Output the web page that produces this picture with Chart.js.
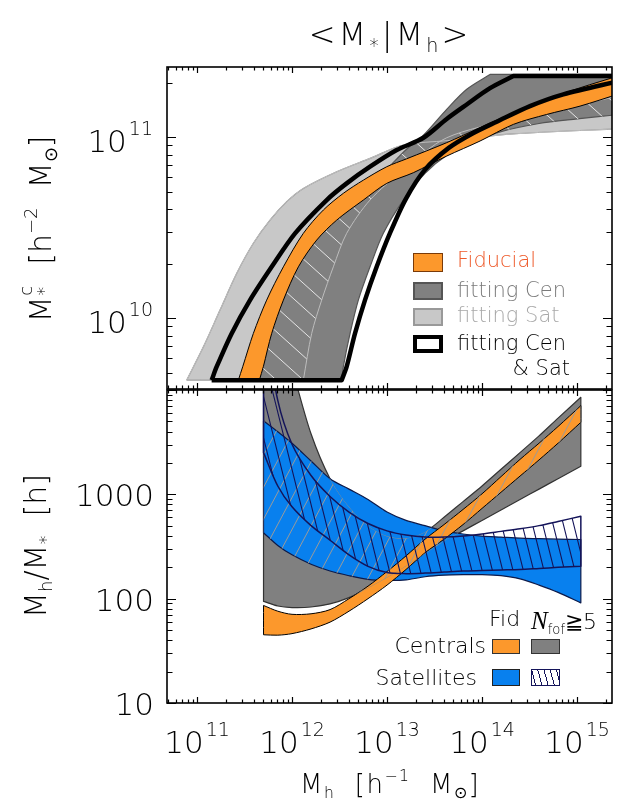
<!doctype html>
<html>
<head>
<meta charset="utf-8">
<title>&lt;M*|Mh&gt;</title>
<script src="https://cdn.jsdelivr.net/npm/chart.js"></script>
<style>
  body { margin: 0; background: #fff; }
  #wrap { position: relative; width: 620px; height: 805px; overflow: hidden;
          font-family: "DejaVu Sans", sans-serif; font-weight: 200; color: #000; }
  canvas { position: absolute; left: 0; top: 0; }
  .t { position: absolute; white-space: nowrap; line-height: 1; }
  .sup { font-size: .6em; position: relative; top: -.8em; }
  .sub { font-size: .6em; position: relative; top: .35em; }
  .rot { transform: translate(-50%, -50%) rotate(-90deg); }
  .stk { display: inline-block; position: relative; width: .42em; height: 1em; }
  .stk span { position: absolute; left: .03em; font-size: .6em; }
  .sw { position: absolute; box-sizing: border-box; }
</style>
</head>
<body>
<div id="wrap">
  <canvas id="top" width="620" height="805"></canvas>
  <canvas id="bot" width="620" height="805"></canvas>

  <div class="t" style="left:390px;top:18px;font-size:32px;letter-spacing:3px;transform:translateX(-50%)">&lt;M<span class="sub">*</span>|M<span class="sub">h</span>&gt;</div>
  <div class="t" style="left:390px;top:771px;font-size:26px;letter-spacing:1.5px;transform:translateX(-50%)">M<span class="sub">h</span>&nbsp;&nbsp;[h<span class="sup">&minus;1</span>&nbsp;&nbsp;M<span class="sub">&#8857;</span>]</div>
  <div class="t rot" style="left:38px;top:229px;font-size:30px">M<span class="stk"><span style="top:-.2em">c</span><span style="top:.75em">*</span></span>&nbsp; [h<span class="sup">&minus;2</span>&nbsp; M<span class="sub">&#8857;</span>]</div>
  <div class="t rot" style="left:36px;top:546px;font-size:30px">M<span class="sub">h</span>/M<span class="sub">*</span>&nbsp; [h]</div>

  <!-- top legend -->
  <div class="sw" style="left:413px;top:253px;width:30px;height:19px;background:#fc982c;border:1px solid #7a3a08"></div>
  <div class="sw" style="left:413px;top:282px;width:30px;height:18px;background:#808080;border:2px solid #555"></div>
  <div class="sw" style="left:413px;top:308px;width:30px;height:18px;background:#c8c8c8;border:2px solid #999"></div>
  <div class="sw" style="left:413px;top:335px;width:30px;height:18px;background:#fff;border:4px solid #000"></div>
  <div class="t" style="left:457px;top:250px;font-size:21px;color:#ee5a2a">Fiducial</div>
  <div class="t" style="left:457px;top:280px;font-size:21px;color:#7a7a7a">fitting Cen</div>
  <div class="t" style="left:457px;top:305px;font-size:21px;color:#a8a8a8">fitting Sat</div>
  <div class="t" style="left:457px;top:333px;font-size:21px">fitting Cen</div>
  <div class="t" style="right:50px;top:358px;font-size:21px">&amp; Sat</div>

  <!-- bottom legend -->
  <div class="t" style="left:489px;top:608px;font-size:22px">Fid</div>
  <div class="t" style="left:531px;top:608px;font-size:22px"><i style="font-family:'Liberation Serif',serif;font-weight:400;font-size:25px">N</i><span class="sub">fof</span>&#8807;5</div>
  <div class="t" style="right:134px;top:635px;font-size:22px">Centrals</div>
  <div class="t" style="right:143px;top:667px;font-size:22px">Satellites</div>
  <div class="sw" style="left:492px;top:639px;width:28px;height:15px;background:#fc982c;border:1px solid #333"></div>
  <div class="sw" style="left:531px;top:639px;width:29px;height:15px;background:#808080;border:1px solid #333"></div>
  <div class="sw" style="left:492px;top:669px;width:28px;height:17px;background:#0880ee;border:1px solid #222"></div>
  <div class="sw" style="left:531px;top:669px;width:29px;height:17px;border:1px solid #14145a;
       background:repeating-linear-gradient(75deg,#fff 0 3px,#14145a 3px 4px,#fff 4px 6px)"></div>
</div>

<script>
// ---- top panel: log10(Mh) and log10(M*c) along the edges of each band ----
// (a repeated point marks a sharp corner, e.g. where an edge meets the flat top)
const satA_mh = [10.891, 11.067, 11.242, 11.418, 11.593, 11.768, 11.944, 12.119, 12.470, 12.821, 13.172, 13.632, 14.326, 15.45]
const satA_ms = [9.657, 9.841, 10.044, 10.247, 10.413, 10.541, 10.643, 10.716, 10.808, 10.882, 10.956, 10.980, 11.017, 11.046]
const satB_mh = [12.119, 12.207, 12.312, 12.435, 12.575, 12.821, 13.172, 13.628, 14.330, 15.45]
const satB_ms = [9.657, 9.915, 10.099, 10.283, 10.468, 10.652, 10.818, 10.996, 11.098, 11.228]

const cenA_mh = [11.55, 11.70, 11.85, 12.00, 12.20, 12.45, 12.70, 12.95, 13.20, 13.383, 13.628, 13.839, 14.084, 14.084, 15.45]
const cenA_ms = [9.657, 9.95, 10.17, 10.32, 10.46, 10.60, 10.70, 10.80, 10.93, 11.01, 11.153, 11.264, 11.346, 11.346, 11.346]
const cenB_mh = [12.523, 12.540, 12.611, 12.698, 12.821, 12.961, 13.172, 13.40, 13.63, 13.90, 14.20, 14.60, 15.00, 15.45]
const cenB_ms = [9.657, 9.731, 9.915, 10.099, 10.283, 10.468, 10.652, 10.80, 10.90, 10.97, 11.03, 11.075, 11.10, 11.125]

const fidA_mh = [11.435, 11.481, 11.593, 11.733, 11.909, 12.119, 12.330, 12.540, 12.751, 12.997, 13.207, 13.628, 13.979, 14.330, 14.681, 15.032, 15.45]
const fidA_ms = [9.657, 9.731, 9.915, 10.099, 10.283, 10.468, 10.597, 10.689, 10.762, 10.836, 10.880, 10.969, 11.052, 11.134, 11.208, 11.272, 11.340]
const fidB_mh = [11.656, 11.698, 11.786, 11.909, 12.067, 12.260, 12.470, 12.751, 12.997, 13.277, 13.628, 13.979, 14.330, 14.681, 15.032, 15.45]
const fidB_ms = [9.657, 9.731, 9.915, 10.099, 10.283, 10.431, 10.541, 10.652, 10.744, 10.803, 10.895, 10.978, 11.070, 11.125, 11.171, 11.240]

const bothA_mh = [11.154, 11.207, 11.365, 11.558, 11.786, 12.032, 12.365, 12.575, 12.821, 13.102, 13.383, 13.628, 13.839, 14.084, 14.330, 14.330, 15.45]
const bothA_ms = [9.657, 9.731, 9.915, 10.099, 10.283, 10.468, 10.652, 10.744, 10.836, 10.928, 10.996, 11.100, 11.180, 11.270, 11.337, 11.337, 11.337]
const bothB_mh = [12.523, 12.575, 12.663, 12.768, 12.891, 13.032, 13.20, 13.40, 13.65, 13.90, 14.155, 14.505, 14.856, 15.45]
const bothB_ms = [9.657, 9.731, 9.915, 10.099, 10.283, 10.470, 10.660, 10.820, 10.940, 11.020, 11.085, 11.171, 11.236, 11.310]

// ---- bottom panel: log10(Mh/M*) on a shared log10(Mh) grid ----
const mhGrid   = [11.70, 11.85, 12.00, 12.20, 12.40, 12.60, 12.80, 13.00, 13.20, 13.40, 13.60, 13.80, 14.00, 14.20, 14.40, 14.60, 14.80, 15.04]
const cenN5Hi  = [5.0, 4.6, 4.2, 3.58, 3.15, 2.88, 2.70, 2.60, 2.58, 2.64, 2.78, 2.93, 3.08, 3.24, 3.40, 3.56, 3.73, 3.93]
const cenN5Lo  = [1.974, 1.93, 1.915, 1.92, 1.95, 2.01, 2.10, 2.20, 2.31, 2.43, 2.55, 2.65, 2.75, 2.85, 2.95, 3.05, 3.15, 3.27]
const cenFidHi = [1.935, 1.88, 1.85, 1.855, 1.895, 2.0, 2.12, 2.26, 2.41, 2.57, 2.71, 2.855, 3.005, 3.17, 3.335, 3.49, 3.65, 3.85]
const cenFidLo = [1.654, 1.65, 1.665, 1.71, 1.775, 1.88, 2.0, 2.13, 2.28, 2.44, 2.57, 2.71, 2.865, 3.02, 3.175, 3.33, 3.49, 3.69]
const satFidHi = [3.705, 3.60, 3.49, 3.32, 3.15, 3.05, 2.95, 2.83, 2.75, 2.70, 2.65, 2.62, 2.60, 2.59, 2.58, 2.575, 2.57, 2.567]
const satFidLo = [2.632, 2.51, 2.42, 2.33, 2.265, 2.22, 2.185, 2.175, 2.18, 2.21, 2.225, 2.23, 2.23, 2.22, 2.19, 2.13, 2.06, 1.96]
const satN5Hi  = [4.7, 3.90, 3.48, 3.18, 2.98, 2.83, 2.72, 2.65, 2.61, 2.59, 2.59, 2.60, 2.62, 2.645, 2.67, 2.70, 2.74, 2.79]
const satN5Lo  = [3.40, 3.08, 2.88, 2.70, 2.56, 2.42, 2.31, 2.25, 2.24, 2.245, 2.255, 2.265, 2.27, 2.275, 2.28, 2.29, 2.30, 2.31]

// axis ranges (log10) and tick labels
const xRange = [10.684, 15.368]
const topRange = [9.608, 11.387]
const botRange = [1.0, 4.0]
const xTickExp = ['11', '12', '13', '14', '15']
const topTickExp = ['10', '11']
const botTickLabels = ['10', '100', '1000']

const pow = (v) => Math.pow(10, v)
const MAIN = '200 31px "DejaVu Sans", sans-serif'
const SUP = '200 19px "DejaVu Sans", sans-serif'

// closed outline: first edge left->right, second edge back right->left.
// The four corners are repeated so the smoothed outline keeps them sharp.
function band(xa, ya, xb, yb) {
  const P = (x, y) => ({ x: pow(x), y: pow(y) })
  const up = xa.map((x, i) => P(x, ya[i]))
  const lo = xb.map((x, i) => P(x, yb[i])).reverse()
  return [...up, up[up.length - 1], lo[0], ...lo, lo[lo.length - 1], up[0]]
}

function ds(data, fillColor, borderColor, borderWidth) {
  return {
    data,
    fill: fillColor ? 'shape' : false,
    backgroundColor: fillColor || 'transparent',
    borderColor,
    borderWidth,
    pointRadius: 0,
    tension: 0.3,
    borderJoinStyle: 'round',
  }
}

// outline of a band exactly as the library draws it (curved segments included)
function bandPath(ctx, chart, idx) {
  chart.getDatasetMeta(idx).dataset.path(ctx)
  ctx.closePath()
}

function clipArea(ctx, a) {
  ctx.beginPath()
  ctx.rect(a.left, a.top, a.right - a.left, a.bottom - a.top)
  ctx.clip()
}

function hatch(ctx, a, angle, spacing, color, lw) {
  const r = (angle * Math.PI) / 180
  const dx = Math.cos(r), dy = Math.sin(r)
  const cx = (a.left + a.right) / 2, cy = (a.top + a.bottom) / 2
  const R = Math.hypot(a.right - a.left, a.bottom - a.top)
  ctx.beginPath()
  for (let s = -R; s <= R; s += spacing) {
    const px = cx - dy * s, py = cy + dx * s
    ctx.moveTo(px - dx * R, py - dy * R)
    ctx.lineTo(px + dx * R, py + dy * R)
  }
  ctx.strokeStyle = color
  ctx.lineWidth = lw
  ctx.stroke()
}

function powLabel(ctx, base, exp, x, y, align) {
  ctx.font = MAIN
  const w1 = ctx.measureText(base).width
  ctx.font = SUP
  const w2 = exp ? ctx.measureText(exp).width + 2 : 0
  const x0 = align === 'center' ? x - (w1 + w2) / 2 : x - w1 - w2
  ctx.fillStyle = '#000'
  ctx.textAlign = 'left'
  ctx.textBaseline = 'alphabetic'
  ctx.font = MAIN
  ctx.fillText(base, x0, y)
  if (exp) {
    ctx.font = SUP
    ctx.fillText(exp, x0 + w1 + 2, y - 17)
  }
}

function logTicks(lo, hi) {
  const out = []
  for (let d = Math.floor(lo); d <= Math.ceil(hi); d++)
    for (let k = 1; k < 10; k++) {
      const v = Math.log10(k) + d
      if (v >= lo - 1e-6 && v <= hi + 1e-6) out.push([pow(v), k === 1])
    }
  return out
}

// frame with inward ticks on all four sides
function drawFrame(chart, yr) {
  const { ctx, chartArea: a } = chart
  const xs = chart.scales.x, ys = chart.scales.y
  ctx.save()
  ctx.strokeStyle = '#000'
  ctx.lineWidth = 1.2
  ctx.beginPath()
  logTicks(xRange[0], xRange[1]).forEach(([v, major]) => {
    const px = Math.round(xs.getPixelForValue(v)) + 0.5
    const len = major ? 6 : 3.5
    ctx.moveTo(px, a.bottom); ctx.lineTo(px, a.bottom - len)
    ctx.moveTo(px, a.top); ctx.lineTo(px, a.top + len)
  })
  logTicks(yr[0], yr[1]).forEach(([v, major]) => {
    const py = Math.round(ys.getPixelForValue(v)) + 0.5
    const len = major ? 9 : 5.5
    ctx.moveTo(a.left, py); ctx.lineTo(a.left + len, py)
    ctx.moveTo(a.right, py); ctx.lineTo(a.right - len, py)
  })
  ctx.stroke()
  ctx.lineWidth = 1.6
  ctx.strokeRect(a.left, a.top, a.right - a.left, a.bottom - a.top)
  ctx.restore()
}

function makeChart(id, datasets, pad, yr, plugin) {
  datasets.forEach((d, i) => (d.order = datasets.length - i))
  return new Chart(document.getElementById(id), {
    type: 'line',
    data: { datasets },
    options: {
      responsive: false,
      animation: false,
      events: [],
      layout: { padding: pad },
      plugins: { legend: { display: false }, tooltip: { enabled: false } },
      scales: {
        x: { type: 'logarithmic', display: false, min: pow(xRange[0]), max: pow(xRange[1]) },
        y: { type: 'logarithmic', display: false, min: pow(yr[0]), max: pow(yr[1]) },
      },
    },
    plugins: [plugin],
  })
}

// ---------------- top panel ----------------
makeChart(
  'top',
  [
    ds(band(satA_mh, satA_ms, satB_mh, satB_ms), '#c8c8c8', '#969696', 1.2),
    ds(band(cenA_mh, cenA_ms, cenB_mh, cenB_ms), '#808080', '#555555', 1.2),
    ds(band(fidA_mh, fidA_ms, fidB_mh, fidB_ms), '#fc982c', '#000000', 1),
    ds(band(bothA_mh, bothA_ms, bothB_mh, bothB_ms), null, '#000000', 4.5),
  ],
  { left: 167, top: 67, right: 8, bottom: 416 },
  topRange,
  {
    id: 'topDeco',
    afterDatasetDraw(chart, args) {
      if (args.index !== 1) return
      const { ctx, chartArea: a } = chart
      // overlap of Sat and Cen fits: white hatching
      ctx.save()
      clipArea(ctx, a)
      ctx.beginPath(); bandPath(ctx, chart, 0); ctx.clip()
      ctx.beginPath(); bandPath(ctx, chart, 1); ctx.clip()
      hatch(ctx, a, 42, 18, '#e4e4e4', 1)
      ctx.restore()
      ctx.save()
      clipArea(ctx, a)
      ctx.beginPath(); bandPath(ctx, chart, 0)
      ctx.strokeStyle = '#bdbdbd'; ctx.lineWidth = 1; ctx.stroke()
      ctx.restore()
    },
    afterDraw(chart) {
      drawFrame(chart, topRange)
      const { ctx, chartArea: a } = chart
      topTickExp.forEach((e) => {
        const py = chart.scales.y.getPixelForValue(pow(+e))
        powLabel(ctx, '10', e, a.left - 14, py + 15, 'right')
      })
    },
  }
)

// ---------------- bottom panel ----------------
makeChart(
  'bot',
  [
    ds(band(mhGrid, cenN5Hi, mhGrid, cenN5Lo), '#808080', '#333333', 1.2),
    ds(band(mhGrid, satFidHi, mhGrid, satFidLo), '#0880ee', '#0d1a4a', 1.2),
    ds(band(mhGrid, cenFidHi, mhGrid, cenFidLo), '#fc982c', '#000000', 1),
    ds(band(mhGrid, satN5Hi, mhGrid, satN5Lo), null, '#14145a', 1.5),
  ],
  { left: 167, top: 390, right: 8, bottom: 102 },
  botRange,
  {
    id: 'botDeco',
    afterDatasetDraw(chart, args) {
      const { ctx, chartArea: a } = chart
      if (args.index === 2) {
        // Cen N>=5 band seen through the fiducial bands: gray hatching
        ctx.save()
        clipArea(ctx, a)
        ctx.beginPath(); bandPath(ctx, chart, 1); bandPath(ctx, chart, 2); ctx.clip()
        ctx.beginPath(); bandPath(ctx, chart, 0); ctx.clip()
        hatch(ctx, a, -62, 15, '#9a9a9a', 1)
        ctx.beginPath(); bandPath(ctx, chart, 0)
        ctx.strokeStyle = '#8c8c8c'; ctx.lineWidth = 1; ctx.stroke()
        ctx.restore()
      }
      if (args.index === 3) {
        ctx.save()
        clipArea(ctx, a)
        ctx.beginPath(); bandPath(ctx, chart, 3); ctx.clip()
        hatch(ctx, a, 76, 10, '#14145a', 1.1)
        ctx.restore()
      }
    },
    afterDraw(chart) {
      drawFrame(chart, botRange)
      const { ctx, chartArea: a } = chart
      botTickLabels.forEach((t) => {
        const py = chart.scales.y.getPixelForValue(+t)
        powLabel(ctx, t, '', a.left - 13, py + 12, 'right')
      })
      xTickExp.forEach((e) => {
        const px = chart.scales.x.getPixelForValue(pow(+e))
        powLabel(ctx, '10', e, px, a.bottom + 50, 'center')
      })
    },
  }
)
</script>
</body>
</html>
